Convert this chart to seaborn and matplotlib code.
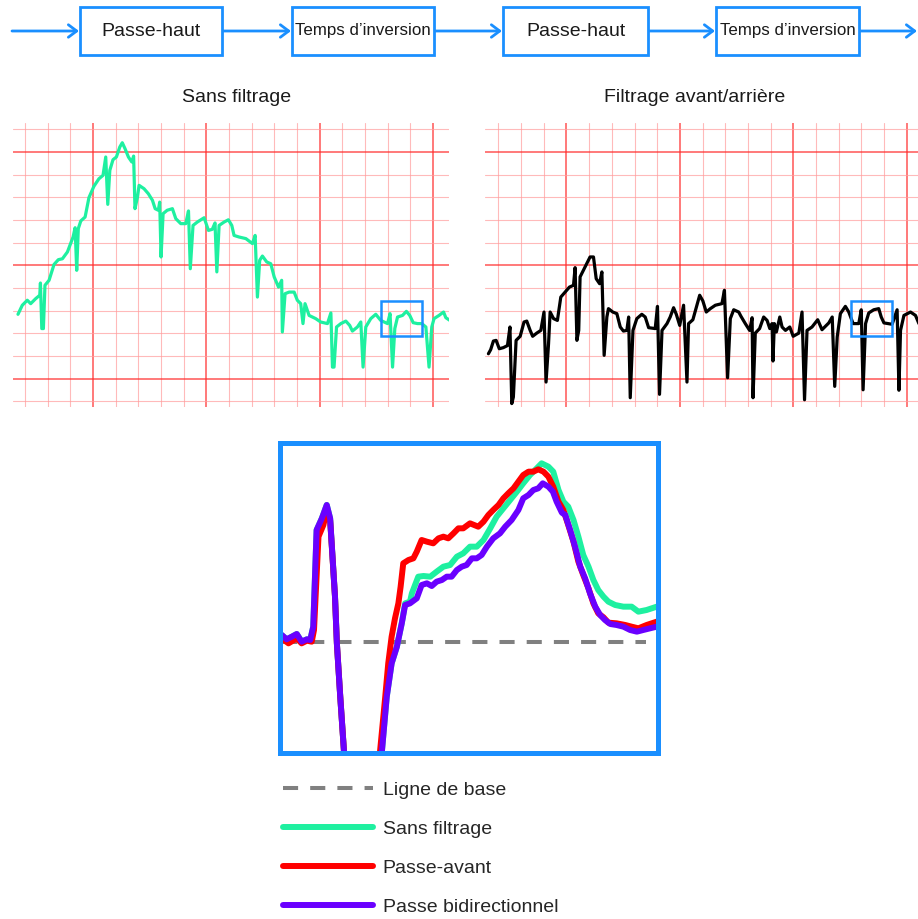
import numpy as np
import pandas as pd
import matplotlib
matplotlib.use("Agg")
import matplotlib.pyplot as plt
from matplotlib import font_manager
from matplotlib.patches import Rectangle
import seaborn as sns

# ---------------- data ----------------
# Flow diagram steps
steps = ["Passe-haut", "Temps d\u2019inversion", "Passe-haut", "Temps d\u2019inversion"]

# Panel titles
panel_titles = ["Sans filtrage", "Filtrage avant/arri\u00e8re"]

# Panel 1 : raw ECG (grid units: small squares)
raw_x = [-0.31, -0.12, 0.10, 0.25, 0.47, 0.65, 0.68, 0.74, 0.81, 0.88, 1.06, 1.28, 1.47, 1.65, 1.87, 2.01,
         2.12, 2.21, 2.28, 2.35, 2.46, 2.65, 2.82, 3.04, 3.26, 3.44, 3.56, 3.65, 3.74, 3.88, 4.03, 4.18,
         4.29, 4.41, 4.56, 4.71, 4.79, 4.85, 4.96, 5.03, 5.25, 5.44, 5.62, 5.74, 5.88, 5.94, 6.00, 6.09,
         6.27, 6.50, 6.65, 6.87, 7.09, 7.21, 7.29, 7.41, 7.60, 7.90, 8.09, 8.26, 8.38, 8.46, 8.56, 8.78,
         8.97, 9.12, 9.22, 9.44, 9.74, 10.03, 10.15, 10.25, 10.35, 10.47, 10.66, 10.84, 10.99, 11.18,
         11.32, 11.35, 11.47, 11.65, 11.87, 12.01, 12.16, 12.26, 12.35, 12.53, 12.82, 13.04, 13.34,
         13.49, 13.56, 13.63, 13.74, 13.93, 14.15, 14.32, 14.44, 14.66, 14.81, 14.91, 15.03, 15.25,
         15.47, 15.69, 15.99, 16.10, 16.21, 16.31, 16.43, 16.65, 16.82, 16.97, 17.12, 17.31, 17.50,
         17.68, 17.82, 17.94, 18.04, 18.26, 18.46, 18.56, 18.74]
raw_y = [3.84, 4.24, 4.46, 4.31, 4.53, 4.68, 5.22, 3.21, 3.21, 5.12, 5.34, 6.04, 6.25, 6.29, 6.59, 6.96,
         7.25, 7.66, 5.78, 7.62, 7.96, 8.13, 8.99, 9.49, 9.82, 9.97, 10.78, 8.69, 10.19, 10.66, 10.78, 11.22,
         11.41, 11.15, 10.78, 10.56, 10.82, 8.50, 9.01, 9.53, 9.38, 9.16, 8.87, 8.50, 8.43, 8.79, 6.37, 8.28,
         8.43, 8.50, 8.06, 7.84, 7.84, 8.40, 5.85, 7.76, 7.91, 8.10, 7.54, 7.59, 7.87, 5.71, 7.76, 7.91,
         8.01, 7.76, 7.32, 7.25, 7.18, 6.96, 7.32, 4.60, 6.22, 6.41, 6.15, 6.07, 5.49, 5.04,
         5.34, 3.06, 4.75, 4.82, 4.82, 4.46, 4.31, 3.43, 4.31, 3.79, 3.65, 3.50, 3.43,
         3.90, 1.51, 1.51, 3.28, 3.43, 3.54, 3.35, 3.10, 3.28, 3.50, 1.51, 3.28, 3.65,
         3.84, 3.57, 3.43, 3.87, 1.51, 3.21, 3.72, 3.79, 3.97, 3.79, 3.47, 3.43, 3.43,
         3.28, 1.51, 3.28, 3.65, 3.79, 3.94, 3.69, 3.57]

# Panel 2 : forward/backward filtered ECG
filt_x = [-0.44, -0.34, -0.22, -0.10, 0.04, 0.22, 0.40, 0.51, 0.59, 0.66, 0.78, 0.96, 1.13, 1.25, 1.40, 1.51,
          1.69, 1.87, 2.01, 2.10, 2.21, 2.28, 2.43, 2.60, 2.75, 2.94, 3.13, 3.31, 3.38, 3.46, 3.54, 3.60,
          3.82, 4.04, 4.19, 4.31, 4.46, 4.56, 4.66, 4.78, 4.85, 5.04, 5.22, 5.37, 5.51, 5.66, 5.74, 5.81,
          5.93, 6.10, 6.32, 6.47, 6.62, 6.91, 7.01, 7.10, 7.21, 7.43, 7.57, 7.72, 7.84, 7.99, 8.16, 8.31,
          8.38, 8.57, 8.75, 8.87, 9.01, 9.16, 9.34, 9.56, 9.85, 9.96, 10.10, 10.22, 10.37, 10.59, 10.69,
          10.88, 11.07, 11.18, 11.22, 11.32, 11.51, 11.69, 11.84, 11.96, 12.06, 12.10, 12.16, 12.25, 12.40,
          12.50, 12.65, 12.84, 12.99, 13.24, 13.38, 13.49, 13.60, 13.82, 14.07, 14.26, 14.56, 14.71, 14.82,
          14.93, 15.07, 15.29, 15.44, 15.63, 15.88, 15.99, 16.07, 16.18, 16.32, 16.54, 16.76, 16.87, 16.99,
          17.35, 17.57, 17.65, 17.72, 17.87, 18.16, 18.38, 18.53]
filt_y = [2.10, 2.28, 2.66, 2.69, 2.32, 2.37, 2.46, 3.28, -0.10, 0.19, 2.69, 2.87, 3.50, 3.54, 3.13, 2.87,
          3.01, 3.13, 3.94, 0.85, 2.54, 3.94, 3.65, 3.57, 4.60, 4.82, 5.04, 5.12, 5.90, 2.69, 3.13, 5.49,
          5.93, 6.37, 6.37, 5.41, 5.19, 5.71, 2.03, 3.72, 4.09, 3.94, 3.87, 3.28, 3.10, 3.13, 3.72, 0.16,
          3.13, 3.65, 3.84, 3.72, 3.25, 3.21, 4.19, 0.31, 3.13, 3.43, 3.72, 4.13, 3.84, 3.35, 4.24, 0.85,
          3.43, 3.60, 4.24, 4.68, 4.43, 3.94, 4.09, 4.24, 4.31, 4.90, 1.04, 3.65, 4.04, 3.94, 3.75,
          3.43, 3.13, 3.69, 0.16, 3.01, 3.21, 3.72, 3.57, 3.21, 3.43, 1.78, 3.43, 3.06, 3.72,
          3.28, 3.13, 3.28, 2.87, 3.01, 3.94, 0.07, 3.13, 3.28, 3.60, 3.16, 3.46, 3.72, 0.66,
          2.84, 3.87, 4.19, 3.94, 3.43, 3.43, 4.04, 0.51, 3.43, 3.90, 4.04, 4.09, 3.72, 3.46,
          3.40, 4.04, 0.49, 3.13, 3.79, 3.94, 3.79, 3.43]

# Zoomed beat (inset): time (% of window) and amplitude (arbitrary units)
legend_labels = ["Ligne de base", "Sans filtrage", "Passe-avant", "Passe bidirectionnel"]
base_t = [0, 97]
base_a = [0, 0]

bi_t = [0, 1.3, 2.7, 4.0, 5.3, 6.7, 7.6, 8.4, 9.3, 10.7, 12.0, 12.9, 14.2, 14.7, 15.6, 16.6, 17.0, 26.1,
        26.7, 28.0, 29.3, 30.7, 32.0, 32.9, 34.2, 36.0, 37.3, 38.7, 40.0, 41.3, 42.7, 44.0, 45.3, 46.7,
        48.0, 49.3, 50.7, 52.0, 53.3, 54.7, 56.4, 58.2, 59.6, 61.3, 63.1, 64.4, 65.8, 67.1, 68.4, 69.6,
        71.1, 72.3, 73.3, 74.7, 75.6, 76.9, 78.2, 79.6, 80.9, 82.2, 83.6, 84.9, 86.2, 87.6, 89.3, 91.1,
        92.9, 94.7, 96.4, 98.2, 100]
bi_a = [2.1, 0.8, 1.6, 2.4, 0.1, 0.8, 0.6, 4.6, 33.6, 37.1, 41.1, 37.1, 13.6, -0.4, -16.4, -32.9, -40, -40,
        -32.9, -16.4, -6.4, -1.4, 5.6, 11.1, 11.6, 13.1, 17.1, 17.6, 16.8, 18.1, 18.6, 19.6, 19.6, 21.6,
        22.6, 23.1, 25.1, 25.1, 26.1, 28.6, 31.1, 32.6, 34.6, 36.6, 39.6, 43.1, 44.1, 45.6, 46.1, 47.6,
        46.6, 45.1, 42.1, 38.8, 38.1, 33.6, 28.6, 22.6, 19.1, 14.6, 10.6, 8.1, 6.6, 5.4, 5.1, 4.6,
        3.6, 3.1, 3.6, 4.1, 4.6]

fwd_t = [0, 1.8, 4.0, 5.3, 6.7, 8.0, 8.6, 9.8, 11.1, 12.0, 12.9, 14.2, 14.7, 15.6, 16.6, 17.0, 25.6, 26.2,
         27.6, 28.4, 29.3, 30.2, 31.1, 31.7, 32.4, 33.8, 35.1, 36.0, 37.3, 38.7, 40.4, 41.8, 43.1, 44.4,
         45.8, 47.1, 48.4, 50.2, 52.4, 53.8, 55.1, 56.4, 57.8, 59.1, 60.4, 61.8, 63.1, 64.4, 65.8, 67.1,
         68.4, 69.8, 71.1, 72.4, 73.8, 75.1, 76.4, 77.8, 79.1, 80.4, 81.8, 83.1, 84.4, 85.8, 87.1, 89.3,
         91.6, 93.3, 95.1, 97.3, 100]
fwd_a = [1.1, -0.4, 1.1, -0.4, 0.4, 0.1, 3.6, 31.6, 35.1, 39.6, 36.6, 13.6, -0.4, -16.4, -32.9, -40, -40, -32.9,
         -16.4, -6.4, 1.6, 7.1, 11.6, 16.6, 23.6, 24.6, 25.1, 27.1, 30.6, 30.1, 29.6, 31.1, 31.6, 31.1,
         32.6, 34.1, 34.1, 35.6, 34.6, 36.1, 38.1, 39.6, 41.1, 43.1, 44.6, 46.1, 48.1, 50.1, 51.1, 51.1,
         51.8, 51.1, 49.6, 46.6, 42.1, 39.6, 35.1, 30.1, 24.1, 20.1, 16.1, 11.6, 8.6, 7.4, 5.8, 5.6,
         5.1, 4.6, 4.1, 5.1, 6.1]

raw_t = [0, 1.3, 2.7, 4.0, 5.3, 6.7, 7.6, 8.4, 9.3, 10.7, 12.0, 12.9, 14.2, 14.7, 15.6, 16.6, 17.0, 26.1,
         26.7, 28.0, 29.3, 30.7, 32.0, 32.9, 34.2, 34.7, 36.4, 37.8, 39.6, 41.3, 43.1, 44.9, 46.7, 48.4,
         50.2, 52.0, 53.8, 55.6, 57.3, 59.1, 60.9, 62.7, 64.4, 66.2, 68.0, 69.3, 71.1, 72.4, 73.8, 75.1,
         76.4, 77.8, 79.1, 80.4, 81.8, 83.1, 84.4, 85.8, 87.1, 88.9, 91.1, 93.3, 95.1, 97.3, 100]
raw_a = [2.1, 0.8, 1.6, 2.4, 0.1, 0.8, 0.6, 4.6, 33.6, 37.1, 41.1, 37.1, 13.6, -0.4, -16.4, -32.9, -40, -40,
         -32.9, -16.4, -6.4, -1.4, 5.6, 11.6, 12.1, 14.6, 19.6, 19.8, 19.6, 21.1, 22.6, 23.1, 25.6, 26.6,
         28.6, 28.6, 30.6, 34.1, 37.6, 40.1, 42.6, 45.1, 47.6, 50.1, 52.1, 53.6, 52.6, 51.1, 45.6, 42.1,
         40.6, 36.6, 31.6, 26.1, 22.6, 18.6, 15.6, 13.6, 12.1, 11.1, 10.6, 10.6, 9.1, 9.6, 10.6]

# zoom window marked on both strips (grid units)
zoom_box_x = [(15.70, 17.51), (15.53, 17.33)]
zoom_box_y = (2.88, 4.43)

# ---------------- style ----------------
sns.set_style("white")
names = {f.name for f in font_manager.fontManager.ttflist}
plt.rcParams["font.family"] = ["Liberation Sans", "DejaVu Sans"]
narrow_family = ["Liberation Sans Narrow", "Liberation Sans", "DejaVu Sans"]
has_narrow = "Liberation Sans Narrow" in names

BLUE = "#1a8fff"
GREEN = "#1ef0a0"
RED = "#ff0000"
PURPLE = "#6a00ff"
GRAY = "#808080"
TXT = "#1a1a1a"

W, H = 918, 919
fig = plt.figure(figsize=(W / 100, H / 100), dpi=100)


def rect(l, t, r, b):
    return [l / W, 1 - b / H, (r - l) / W, (b - t) / H]


# ---------------- flow diagram ----------------
axf = fig.add_axes([0, 0, 1, 1])
axf.set_xlim(0, W)
axf.set_ylim(H, 0)
axf.axis("off")
box_lr = [(80, 222), (292, 434), (503, 648), (716, 859)]
box_tb = (7, 55)
ymid = 31
starts = [12] + [r for _, r in box_lr]
ends = [l - 1 for l, _ in box_lr] + [917]
for s, e in zip(starts, ends):
    axf.annotate("", xy=(e, ymid), xytext=(s, ymid),
                 arrowprops=dict(arrowstyle="->,head_length=0.6,head_width=0.45",
                                 color=BLUE, lw=2.0, shrinkA=0, shrinkB=0,
                                 mutation_scale=10))
for (l, r), label in zip(box_lr, steps):
    axf.add_patch(Rectangle((l, box_tb[0]), r - l, box_tb[1] - box_tb[0],
                            fill=True, facecolor="white", edgecolor=BLUE, lw=2.0, zorder=3))
    if "Temps" in label:
        if has_narrow:
            axf.text((l + r) / 2, ymid, label, ha="center", va="center", fontsize=14,
                     family=narrow_family, color=TXT, zorder=4)
        else:
            axf.text((l + r) / 2, ymid, label, ha="center", va="center", fontsize=12.2,
                     color=TXT, zorder=4)
    else:
        axf.text((l + r) / 2, ymid, label, ha="center", va="center", fontsize=14,
                 color=TXT, zorder=4)

# ---------------- ECG strips ----------------
fig.text(237 / W, 1 - 98 / H, panel_titles[0], ha="center", va="center", fontsize=14, color=TXT)
fig.text(695 / W, 1 - 98 / H, panel_titles[1], ha="center", va="center", fontsize=14, color=TXT)

ax1 = fig.add_axes(rect(13, 123, 449, 407))
ax2 = fig.add_axes(rect(485, 123, 918, 407))
strips = [(ax1, raw_x, raw_y, GREEN, (-0.53, 18.70)),
          (ax2, filt_x, filt_y, "black", (-0.59, 18.49))]
for i, (ax, xs, ys, col, xl) in enumerate(strips):
    ax.set_xlim(*xl)
    ax.set_ylim(-0.25, 12.28)
    ax.set_xticks([3, 8, 13, 18])
    ax.set_xticks(np.arange(0, 19), minor=True)
    ax.set_yticks([1, 6, 11])
    ax.set_yticks(np.arange(0, 13), minor=True)
    ax.grid(which="minor", color="#ff9d9d", lw=0.8, alpha=0.7)
    ax.grid(which="major", color="#ff2a2a", lw=1.1, alpha=0.8)
    ax.tick_params(which="both", length=0, labelbottom=False, labelleft=False)
    for sp in ax.spines.values():
        sp.set_visible(False)
    ax.set_axisbelow(True)
    df = pd.DataFrame({"x": xs, "y": ys})
    sns.lineplot(data=df, x="x", y="y", sort=False, estimator=None, ax=ax,
                 color=col, lw=2.3, solid_joinstyle="round")
    ax.set_xlabel("")
    ax.set_ylabel("")
    bx = zoom_box_x[i]
    ax.add_patch(Rectangle((bx[0], zoom_box_y[0]), bx[1] - bx[0], zoom_box_y[1] - zoom_box_y[0],
                           fill=False, edgecolor=BLUE, lw=1.8, zorder=5))

# ---------------- inset (zoomed beat) ----------------
axi = fig.add_axes(rect(279.5, 442.5, 657.5, 752.5))
axi.set_xlim(-0.6, 100.2)
axi.set_ylim(-33.15, 59.85)
axi.set_xticks([])
axi.set_yticks([])
for sp in axi.spines.values():
    sp.set_visible(True)
    sp.set_color(BLUE)
    sp.set_linewidth(3.6)

sns.lineplot(x=base_t, y=base_a, ax=axi, color=GRAY, lw=2.9, linestyle=(0, (3.75, 3.0)),
             label=legend_labels[0], sort=False, estimator=None)
sns.lineplot(x=raw_t, y=raw_a, ax=axi, color=GREEN, lw=4.3, label=legend_labels[1],
             sort=False, estimator=None)
sns.lineplot(x=fwd_t, y=fwd_a, ax=axi, color=RED, lw=4.3, label=legend_labels[2],
             sort=False, estimator=None)
sns.lineplot(x=bi_t, y=bi_a, ax=axi, color=PURPLE, lw=4.3, label=legend_labels[3],
             sort=False, estimator=None)
handles, labels = axi.get_legend_handles_labels()
if axi.get_legend() is not None:
    axi.get_legend().remove()

fig.legend(handles, labels, loc="upper left", bbox_to_anchor=(283 / W, 1 - 781 / H),
           frameon=False, fontsize=14, borderpad=0, borderaxespad=0,
           handlelength=4.63, handletextpad=0.5, labelspacing=1.11)

fig.savefig("out.png", dpi=100, facecolor="white")
